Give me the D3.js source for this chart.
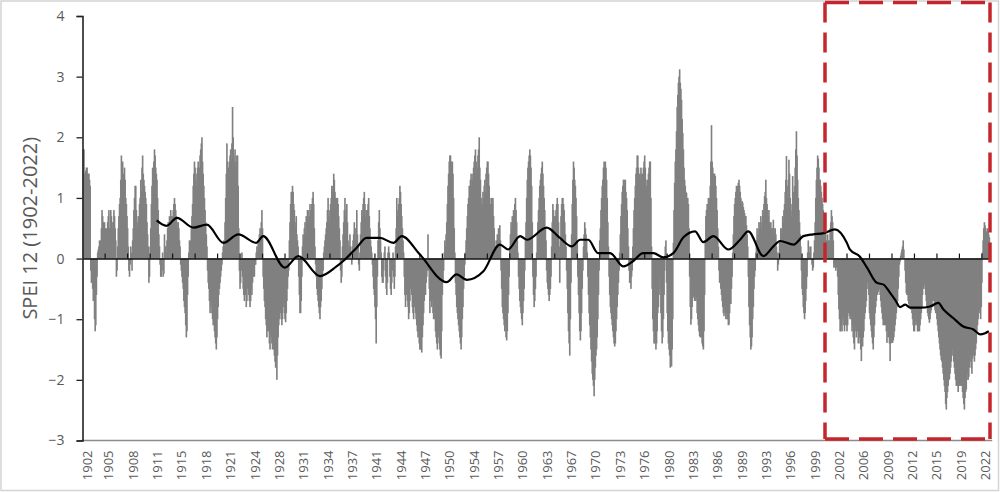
<!DOCTYPE html>
<html><head><meta charset="utf-8">
<script src="https://cdn.jsdelivr.net/npm/d3@7"></script>
<style>
html,body{margin:0;padding:0;background:#fff;}
svg{display:block;}
</style></head>
<body><svg id="chart" width="1000" height="492"></svg>
<script>
// ---------- DATA (monthly SPEI-12) ----------
const firstYear = 1902;
const yTitle = "SPEI 12 (1902-2022)";
const yTicks = [-3, -2, -1, 0, 1, 2, 3, 4];
const labelEvery = 39;   // category label interval (months)
const tickEvery = 36;    // tick mark interval (months)

const spei1900s = [ // 1902-1909
 1.8,1.8,1.4,1.4,1.45,1.5,1.5,1.4,1.4,1.4,1.3,1.2,
 -0.2,-0.4,-0.4,-0.5,-0.7,-0.7,-1.0,-1.2,-1.1,-0.6,-0.3,0.1,
 0.15,0.2,0.3,0.2,0.3,0.5,0.8,0.7,0.6,0.4,0.6,0.5,
 0.4,0.5,0.3,0.6,0.7,0.8,0.5,0.4,0.8,0.7,0.6,0.5,
 0.6,0.8,0.7,0.5,0.3,-0.3,-0.2,0.2,0.5,0.7,0.9,1.0,
 1.3,1.7,1.5,1.6,1.4,1.2,1.5,1.3,1.0,0.9,0.7,0.5,
 0.2,-0.2,-0.3,-0.1,0.2,0.1,-0.2,0.3,0.5,0.8,1.0,1.2,
 1.2,0.8,0.6,0.5,0.7,0.6,0.9,1.0,1.3,1.1,1.5,1.7];
const spei1910s = [
 1.4,1.3,1.2,1.1,1.0,0.9,0.6,0.4,0.2,-0.4,-0.3,0.2,
 0.5,0.9,1.2,1.5,1.3,1.6,1.8,1.7,1.5,1.4,1.3,1.0,
 0.8,0.4,0.2,-0.1,-0.3,-0.3,-0.2,0.1,-0.3,-0.25,0.4,0.2,
 0.2,0.1,0.3,0.5,0.6,0.5,0.7,0.6,0.8,0.7,0.6,0.7,
 0.8,0.9,1.0,0.9,0.8,0.7,0.6,0.5,0.6,0.5,0.3,0.2,
 -0.1,-0.2,-0.3,-0.4,-0.5,-0.7,-0.8,-0.9,-1.1,-1.3,-1.2,-0.6,
 -0.3,0.1,0.3,0.2,0.3,0.5,0.7,0.9,1.2,1.4,1.6,1.5,
 1.3,1.2,1.4,1.5,1.6,1.4,1.5,1.7,1.8,1.9,2.0,1.6,
 1.4,1.2,1.0,0.8,0.6,0.4,0.2,-0.2,-0.4,-0.5,-0.7,-0.9,
 -0.8,-0.7,-0.9,-1.0,-1.1,-1.0,-1.2,-1.3,-1.4,-1.5,-1.3,-1.0];
const spei1920s = [
 -0.8,-0.6,-0.5,-0.4,-0.3,-0.2,-0.1,0.1,0.2,0.3,0.2,0.6,
 1.0,1.4,1.9,1.6,1.3,1.5,1.6,1.7,1.8,1.6,1.9,2.5,
 2.0,1.7,1.6,1.8,1.5,1.6,1.7,1.7,1.2,0.5,-0.2,-0.5,
 -0.4,-0.2,0.1,-0.3,-0.5,-0.6,-0.7,-0.5,-0.6,-0.8,-0.7,-0.5,
 -0.4,-0.6,-0.7,-0.8,-0.7,-0.5,-0.6,-0.4,-0.3,-0.2,-0.3,-0.1,
 -0.1,0.1,0.2,0.1,0.3,0.2,0.4,0.5,0.3,0.6,0.8,0.5,
 -0.3,-0.5,-0.7,-0.8,-1.0,-1.1,-1.3,-1.2,-1.1,-1.2,-1.4,-1.5,
 -1.2,-1.3,-1.4,-1.5,-1.4,-1.5,-1.6,-1.7,-1.8,-1.7,-2.0,-1.6,
 -1.3,-1.1,-1.0,-0.8,-0.9,-1.0,-1.1,-1.0,-0.8,-0.6,-0.9,-1.0,
 -1.05,-0.9,-0.7,-0.5,-0.3,-0.2,0.3,0.6,0.9,1.1,0.8,1.2];
const spei1930s = [
 1.1,0.9,0.8,0.6,0.5,0.7,0.4,0.3,0.2,-0.3,-0.6,-0.9,
 -0.9,-0.7,-0.3,0.2,0.4,0.3,0.5,0.6,0.4,0.7,0.6,0.8,
 0.8,0.6,0.7,0.9,0.8,0.7,0.9,1.0,1.1,0.9,0.5,0.2,
 -0.1,-0.3,-0.5,-0.6,-0.7,-0.8,-0.9,-1.0,-0.8,-0.7,-0.5,-0.3,
 -0.2,0.1,0.2,0.3,0.4,0.5,0.6,0.8,1.0,0.7,0.6,0.8,
 0.9,1.0,1.2,1.1,1.2,1.4,1.3,1.1,1.0,0.9,1.0,1.0,
 0.9,0.7,0.5,0.3,-0.2,-0.4,-0.3,0.2,0.4,0.6,0.8,1.0,
 0.7,0.8,0.9,0.6,0.3,0.1,0.2,0.4,0.2,0.0,-0.1,0.2,
 0.3,0.4,0.6,0.5,0.3,0.5,0.8,0.4,0.2,-0.1,-0.2,0.1,
 0.4,0.6,0.8,0.7,0.9,1.0,1.1,0.9,0.7,0.8,0.6,0.8];
const spei1940s = [
 0.9,1.0,0.7,0.5,0.3,0.2,0.1,-0.1,-0.3,-0.5,-0.6,-0.8,
 -1.0,-1.4,-0.8,-0.3,0.3,0.6,0.8,0.5,0.3,0.1,-0.3,-0.4,
 -0.4,-0.2,0.1,0.2,-0.3,-0.5,-0.6,-0.4,0.1,0.2,0.1,-0.3,
 -0.5,-0.6,-0.4,-0.2,0.1,-0.3,-0.5,-0.3,0.2,0.5,1.0,0.7,
 0.8,0.9,1.0,1.2,1.1,0.9,0.7,0.5,0.3,0.1,-0.3,-0.6,
 -0.8,-0.6,-0.5,-0.7,-0.8,-1.0,-0.9,-0.7,-0.5,-0.4,-0.6,-0.8,
 -0.9,-1.0,-0.8,-0.7,-0.9,-1.0,-1.1,-1.2,-1.3,-1.2,-1.4,-1.5,
 -1.5,-1.4,-1.55,-1.3,-1.1,-0.9,-0.7,-0.5,-0.6,-0.4,-0.3,-0.2,
 0.4,-0.2,-0.5,-0.9,-0.7,-0.6,-0.8,-0.7,-0.9,-1.0,-0.8,-1.0,
 -1.2,-1.3,-1.4,-1.5,-1.3,-1.2,-1.4,-1.5,-1.6,-1.65,-1.2,-0.6];
const spei1950s = [
 -0.4,-0.2,0.1,0.3,0.2,0.4,0.6,0.9,1.2,1.4,1.6,1.7,
 1.7,1.6,1.5,1.6,1.4,1.0,0.5,0.1,-0.4,-0.6,-0.8,-0.9,
 -1.0,-1.1,-1.2,-1.3,-1.4,-1.5,-1.3,-1.0,-0.8,-0.5,-0.3,-0.1,
 0.1,0.3,0.5,0.7,0.9,1.0,1.2,1.1,1.3,1.4,1.2,1.3,
 1.4,1.5,1.6,1.7,1.8,1.6,1.4,1.5,1.7,1.8,2.0,1.5,
 1.3,1.0,0.8,0.9,1.1,1.0,1.2,1.3,1.1,1.4,1.5,1.6,
 1.6,1.4,1.2,1.0,0.9,0.8,1.0,0.9,1.0,0.7,0.5,0.3,
 0.2,0.1,0.3,0.4,0.3,0.5,0.4,0.55,0.3,-0.2,-0.5,-0.8,
 -0.9,-1.0,-1.1,-1.2,-1.1,-1.3,-1.35,-1.2,-0.9,-0.6,-0.3,0.2,
 0.4,0.6,0.5,0.7,0.6,0.8,0.7,0.9,1.0,0.8,0.6,0.3];
const spei1960s = [
 0.1,-0.3,-0.5,-0.7,-0.8,-0.9,-1.0,-1.1,-0.9,-0.7,-0.5,-0.2,
 0.3,0.6,1.0,1.3,1.5,1.6,1.7,1.8,1.7,1.5,1.2,0.6,
 -0.3,-0.6,-0.8,-0.7,-0.5,-0.3,0.1,0.4,0.6,0.8,1.0,1.2,
 1.3,1.4,1.5,1.6,1.4,1.2,1.0,0.8,0.5,0.3,-0.2,-0.4,
 -0.5,-0.6,-0.7,-0.6,-0.5,-0.3,0.2,0.6,0.9,0.8,0.7,0.6,
 0.7,0.8,0.9,1.0,0.9,0.6,0.2,-0.4,0.3,0.7,0.9,1.0,
 1.0,0.9,0.8,0.6,0.4,0.2,-0.2,-0.5,-0.9,-1.2,-1.4,-1.6,
 -1.0,-0.4,0.4,0.9,1.3,1.6,1.5,1.3,1.2,1.0,0.7,0.3,
 -0.3,-0.6,-0.9,-1.2,-1.35,-1.2,-0.9,-0.5,-0.2,0.2,0.4,0.6,
 0.5,0.4,0.3,0.1,-0.3,-0.6,-0.9,-1.1,-1.3,-1.5,-1.7,-1.9];
const spei1970s = [
 -2.0,-2.1,-2.27,-2.0,-1.8,-1.6,-1.5,-1.3,-1.0,-0.6,-0.2,0.3,
 0.5,0.8,1.0,1.2,1.3,1.5,1.6,1.5,1.6,1.5,1.3,1.0,
 0.6,0.2,-0.3,-0.6,-0.8,-0.9,-1.0,-1.1,-1.2,-1.3,-1.4,-1.45,
 -1.4,-1.2,-1.0,-0.8,-0.6,-0.4,-0.2,0.1,0.4,0.7,0.9,1.1,
 1.2,1.3,1.3,1.2,1.3,1.1,1.0,0.8,0.5,0.2,-0.2,-0.4,
 -0.4,-0.5,-0.3,-0.2,0.2,0.5,0.8,1.0,1.2,1.4,1.5,1.7,
 1.7,1.5,1.3,1.4,1.3,1.5,1.4,1.3,1.4,1.5,1.6,1.7,
 1.5,1.3,1.2,1.1,1.3,1.4,1.5,1.6,1.6,1.0,0.2,-0.5,
 -1.0,-1.2,-1.4,-1.4,-1.3,-1.5,-1.4,-1.2,-0.9,-0.8,-0.6,-0.3,
 -0.5,-0.9,-1.2,-1.4,-1.3,-1.0,-0.6,-0.2,0.2,0.3,-0.4,-0.9];
const spei1980s = [
 -1.2,-1.4,-1.5,-1.6,-1.8,-1.7,-1.78,-1.5,-1.0,0.26,0.8,1.25,
 1.6,1.8,2.1,2.5,2.7,2.9,3.0,3.12,2.9,2.8,2.62,2.3,
 2.07,1.8,1.5,1.3,1.2,1.1,1.08,1.0,1.0,0.9,0.5,-0.3,
 -0.8,-1.09,-1.0,-0.8,-0.62,-0.6,-0.65,-0.7,-0.6,-0.7,-0.65,-0.9,
 -1.0,-1.1,-1.2,-1.28,-1.3,-1.2,-1.3,-1.4,-1.45,-1.5,-1.2,-0.6,
 0.3,0.7,0.8,0.9,0.8,1.0,0.9,1.0,1.2,1.6,2.2,1.6,
 1.5,1.4,1.3,1.4,1.36,1.2,1.0,0.8,0.5,0.2,-0.2,-0.4,
 -0.4,-0.5,-0.6,-0.7,-0.8,-0.9,-0.95,-0.8,-0.9,-1.0,-0.9,-1.0,
 -1.0,-1.1,-1.09,-0.9,-0.7,-0.75,-0.5,-0.3,0.1,0.4,0.7,0.9,
 1.0,1.1,1.2,1.1,1.2,1.25,1.3,1.2,1.1,1.0,0.9,0.95];
const spei1990s = [
 0.92,0.85,0.8,0.75,0.7,0.7,0.55,0.4,0.2,-0.3,-0.8,-1.1,
 -1.3,-1.5,-1.45,-1.3,-1.0,-0.8,-0.5,-0.3,-0.2,0.1,0.3,0.5,
 0.3,0.4,0.6,0.5,0.6,0.7,0.5,0.6,0.8,0.7,0.9,1.03,
 1.1,1.3,1.0,0.9,0.8,0.7,0.8,0.6,0.5,0.6,0.5,0.4,
 0.5,0.64,0.5,0.4,0.5,0.4,0.2,0.1,-0.2,-0.1,0.1,0.3,
 0.3,0.5,0.4,0.5,0.7,0.6,0.8,0.9,1.1,1.3,1.69,1.2,
 1.0,1.3,1.63,1.4,1.0,0.8,0.7,0.9,1.36,1.1,0.9,1.2,
 1.5,1.8,2.1,1.7,1.3,1.0,0.8,0.6,0.4,0.2,-0.2,-0.5,
 -0.6,-0.8,-0.9,-1.0,-0.9,-0.7,-0.5,-0.3,0.1,0.3,0.2,0.1,
 0.1,0.2,0.0,-0.1,-0.2,-0.15,0.1,0.3,0.6,1.0,1.3,1.5];
const spei2000s = [
 1.7,1.65,1.5,1.3,1.3,1.2,1.1,1.0,0.9,0.8,0.6,0.5,
 0.5,0.4,0.3,0.3,0.4,0.3,0.2,0.3,0.5,0.6,0.8,0.7,
 0.6,0.3,-0.15,-0.1,-0.15,-0.2,-0.15,-0.1,-0.3,-0.6,-0.84,-1.0,
 -1.2,-1.2,-1.1,-1.2,-1.0,-0.95,-1.1,-1.2,-1.1,-1.0,-1.1,-1.2,
 -1.1,-0.9,-0.8,-0.95,-1.0,-0.9,-1.0,-1.2,-1.1,-1.3,-1.4,-1.5,
 -1.2,-1.1,-1.3,-1.0,-1.2,-1.4,-1.1,-1.3,-1.4,-1.5,-1.69,-1.4,
 -1.45,-1.3,-1.2,-1.0,-0.9,-0.8,-0.7,-0.5,-0.4,-0.29,-0.6,-0.9,
 -1.0,-1.1,-1.2,-1.3,-1.4,-1.5,-1.3,-1.1,-0.9,-0.8,-0.7,-0.6,
 -0.6,-0.55,-0.5,-0.51,-0.6,-0.7,-0.8,-0.9,-1.0,-1.1,-1.0,-1.1,
 -1.0,-1.1,-1.2,-1.39,-1.2,-1.3,-1.2,-1.4,-1.69,-1.4,-1.3,-1.39];
const spei2010s = [
 -1.39,-1.35,-1.3,-1.2,-1.1,-1.0,-0.9,-0.8,-0.7,-0.5,-0.3,-0.1,
 -0.05,0.05,0.1,0.15,0.2,0.3,0.15,0.0,-0.2,-0.4,-0.57,-0.6,
 -0.6,-0.7,-0.75,-0.8,-0.8,-0.84,-0.8,-0.9,-1.0,-1.1,-1.2,-1.2,
 -1.1,-1.0,-1.05,-1.1,-1.2,-1.2,-1.15,-1.2,-1.1,-1.0,-0.9,-0.8,
 -0.6,-0.5,-0.45,-0.4,-0.5,-0.6,-0.7,-0.8,-0.9,-0.95,-1.0,-1.06,
 -1.0,-0.9,-0.85,-0.8,-0.7,-0.62,-0.7,-0.8,-0.85,-0.9,-0.9,-1.0,
 -1.1,-1.2,-1.3,-1.4,-1.5,-1.6,-1.67,-1.7,-1.8,-1.9,-2.0,-2.1,
 -2.2,-2.4,-2.49,-2.3,-2.2,-2.1,-2.0,-1.99,-1.9,-1.8,-1.7,-1.6,
 -1.5,-1.6,-1.7,-1.8,-1.9,-2.0,-2.1,-2.0,-2.1,-2.2,-2.0,-2.1,
 -2.0,-2.1,-2.05,-2.1,-2.2,-2.3,-2.4,-2.49,-2.3,-2.2,-2.16,-2.0];
const spei2020s = [ // 2020-2022
 -1.9,-2.0,-1.95,-1.8,-1.7,-1.6,-1.8,-1.9,-1.65,-1.5,-1.6,-1.7,
 -1.6,-1.5,-1.4,-1.2,-1.1,-1.0,-0.9,-0.84,-0.9,-1.0,-0.8,-0.4,
 0.1,0.3,0.5,0.6,0.55,0.5,0.45,0.4,0.5,0.45,0.4,0.35];

// 10-year moving average line (decimal year, value)
const maYears = [1911.9,1913.2,1914.6,1916.8,1918.6,1920.8,1922.8,1925.2,1926.1,1929.0,1930.8,1933.7,1935.9,1936.8,1938.6,1939.9,1941.7,1943.5,1944.6,1947.0,1950.6,1951.9,1953.3,1955.5,1957.7,1958.8,1960.4,1961.3,1963.95,1965.7,1967.3,1968.4,1969.5,1970.8,1972.4,1974.2,1975.5,1976.8,1978.2,1979.5,1980.85,1982.2,1983.75,1984.85,1986.2,1988.2,1989.75,1990.85,1992.85,1994.2,1995.1,1996.9,1998.2,1999.5,2000.9,2002.4,2004.0,2004.4,2005.75,2006.7,2008.0,2008.9,2009.8,2010.45,2011.1,2011.8,2012.45,2013.8,2015.1,2016.2,2016.9,2018.2,2019.55,2020.9,2021.8,2022.45,2022.95];
const maValues = [0.63,0.54,0.67,0.51,0.56,0.26,0.40,0.26,0.37,-0.15,0.04,-0.29,-0.13,-0.04,0.18,0.34,0.34,0.26,0.37,0.07,-0.39,-0.26,-0.35,-0.21,0.23,0.15,0.37,0.31,0.51,0.34,0.20,0.31,0.31,0.09,0.09,-0.13,-0.04,0.09,0.09,0.02,0.09,0.35,0.45,0.27,0.37,0.15,0.31,0.45,0.04,0.20,0.29,0.23,0.37,0.40,0.42,0.48,0.26,0.15,0.03,-0.15,-0.40,-0.43,-0.57,-0.68,-0.80,-0.76,-0.81,-0.81,-0.79,-0.73,-0.84,-0.98,-1.12,-1.17,-1.25,-1.23,-1.20];

// ---------- BUILD ----------
const values = [].concat(spei1900s, spei1910s, spei1920s, spei1930s, spei1940s,
  spei1950s, spei1960s, spei1970s, spei1980s, spei1990s, spei2000s, spei2010s, spei2020s);
const N = values.length;
const months = d3.range(N);

const svg = d3.select("#chart");
const W = 1000, H = 492;
const x0 = 82.5, x1 = 989.2, yTop = 16, yBot = 440.5;
const textCol = "#595959";
const font = "'Open Sans', 'Liberation Sans', sans-serif";

// outer frame
svg.append("rect").attr("x", 1).attr("y", 1).attr("width", W - 2.5).attr("height", H - 2.5)
  .attr("fill", "#fff").attr("stroke", "#d4d4d4").attr("stroke-width", 1.5);

const x = d3.scaleBand().domain(months).range([x0, x1]).paddingInner(0).paddingOuter(0);
const xYear = d3.scaleLinear().domain([firstYear, firstYear + N / 12]).range([x0, x1]);
const y = d3.scaleLinear().domain([d3.min(yTicks), d3.max(yTicks)]).range([yBot, yTop]);
const bw = x.bandwidth();

// bars (slightly overlapped so adjacent months read as a solid column)
svg.append("g").selectAll("rect").data(months).join("rect")
  .attr("x", i => x(i))
  .attr("width", bw + 1)
  .attr("y", i => Math.min(y(values[i]), y(0)))
  .attr("height", i => Math.abs(y(values[i]) - y(0)))
  .attr("fill", "#808080");

// bottom frame line
svg.append("line").attr("x1", x0 - 1).attr("x2", x1 + 3).attr("y1", yBot).attr("y2", yBot)
  .attr("stroke", "#8c8c8c").attr("stroke-width", 1.5);

// zero axis with tick marks
const zeroAxis = d3.axisBottom(x).tickValues(d3.range(tickEvery, N, tickEvery))
  .tickSizeInner(-5).tickSizeOuter(0).tickFormat("");
const gz = svg.append("g").attr("transform", `translate(0,${y(0)})`).call(zeroAxis);
gz.select(".domain").attr("stroke", "#111").attr("stroke-width", 1.6);
gz.selectAll(".tick line").attr("stroke", "#111").attr("stroke-width", 1.2)
  .attr("transform", `translate(${-bw / 2},0)`);

// category labels along the bottom
const xAxis = d3.axisBottom(x).tickValues(d3.range(0, N, labelEvery))
  .tickSize(0).tickFormat(i => String(firstYear + Math.floor(i / 12)));
const gx = svg.append("g").attr("transform", `translate(1.5,${yBot})`).call(xAxis);
gx.select(".domain").remove();
gx.selectAll(".tick").filter(d => d === 0).attr("transform", `translate(${x0 + 3},0)`);
gx.selectAll("text")
  .attr("transform", "rotate(-90)").attr("x", -10).attr("y", 0).attr("dy", "0.35em")
  .style("text-anchor", "end").style("font-family", font).style("font-size", "13px")
  .attr("fill", textCol);

// moving average line
const line = d3.line().x((d, k) => xYear(maYears[k])).y(d => y(d)).curve(d3.curveMonotoneX);
svg.append("path").datum(maValues).attr("d", line)
  .attr("fill", "none").attr("stroke", "#000").attr("stroke-width", 2.2)
  .attr("stroke-linejoin", "round");

// y axis
const yAxis = d3.axisLeft(y).tickValues(yTicks).tickSize(6).tickPadding(12).tickFormat(d3.format("d"));
const gy = svg.append("g").attr("transform", `translate(${x0},0)`).call(yAxis);
gy.select(".domain").attr("stroke", "#222").attr("stroke-width", 1.6);
gy.selectAll(".tick line").attr("stroke", "#222").attr("stroke-width", 1.3);
gy.selectAll("text").style("font-family", font).style("font-size", "14px").attr("fill", textCol);

// y title
svg.append("text").attr("transform", `translate(30,${(yTop + yBot) / 2}) rotate(-90)`)
  .attr("dy", "0.35em").attr("text-anchor", "middle")
  .style("font-family", font).style("font-size", "20px").attr("fill", textCol)
  .text(yTitle);

// red dashed highlight box (2001-2022)
const red = "#c3272d";
const bx0 = 825, bx1 = 990, by0 = 2.5, by1 = 439;
const box = svg.append("g").attr("stroke", red).attr("stroke-width", 3.5).attr("fill", "none");
box.append("line").attr("x1", bx0).attr("x2", bx0).attr("y1", by0).attr("y2", by1).attr("stroke-dasharray", "20,10");
box.append("line").attr("x1", bx1).attr("x2", bx1).attr("y1", by0).attr("y2", by1).attr("stroke-dasharray", "20,10");
box.append("line").attr("x1", bx0).attr("x2", bx1).attr("y1", by0).attr("y2", by0).attr("stroke-dasharray", "24,10");
box.append("line").attr("x1", bx0).attr("x2", bx1).attr("y1", by1).attr("y2", by1).attr("stroke-dasharray", "24,10");
</script>
</body></html>
